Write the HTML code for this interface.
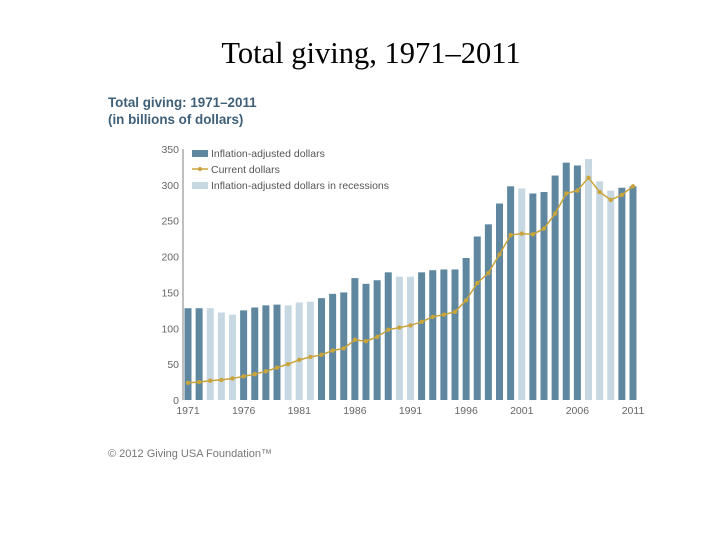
<!DOCTYPE html>
<html><head><meta charset="utf-8"><style>
body{margin:0;background:#fff;width:720px;height:540px;overflow:hidden}
svg{display:block}
</style></head><body>
<svg id="c" width="720" height="540" xmlns="http://www.w3.org/2000/svg">
<text x="371" y="63" text-anchor="middle" font-family="Liberation Serif, serif" font-size="30.5" fill="#000">Total giving, 1971–2011</text>
<text x="108" y="107" font-family="Liberation Sans, sans-serif" font-weight="bold" font-size="13.4" fill="#3f5f78">Total giving: 1971–2011</text>
<text x="108" y="124" font-family="Liberation Sans, sans-serif" font-weight="bold" font-size="13.4" fill="#3f5f78">(in billions of dollars)</text>
<text x="108" y="457" font-family="Liberation Sans, sans-serif" font-size="11" fill="#777">© 2012 Giving USA Foundation™</text>
<line x1="183" y1="149" x2="183" y2="400" stroke="#aaa" stroke-width="1.5"/>
<g id="bars"></g><g id="line"></g><g id="axes"></g>
<g font-family="Liberation Sans, sans-serif" font-size="10.5" fill="#555">
<rect x="192" y="150" width="16" height="7" fill="#5f87a0"/>
<text x="211" y="157">Inflation-adjusted dollars</text>
<line x1="192" y1="169" x2="208" y2="169" stroke="#c9a43a" stroke-width="1.5"/>
<circle cx="200" cy="169" r="2" fill="#c9a43a"/>
<text x="211" y="173">Current dollars</text>
<rect x="192" y="182" width="16" height="7" fill="#c8d8e3"/>
<text x="211" y="189">Inflation-adjusted dollars in recessions</text>
</g>
</svg>
<script>
const years=[1971,1972,1973,1974,1975,1976,1977,1978,1979,1980,1981,1982,1983,1984,1985,1986,1987,1988,1989,1990,1991,1992,1993,1994,1995,1996,1997,1998,1999,2000,2001,2002,2003,2004,2005,2006,2007,2008,2009,2010,2011];
const adjusted=[128,128,128,122,119,125,129,132,133,132,136,137,142,148,150,170,162,167,178,172,172,178,181,182,182,198,228,245,274,298,295,288,290,313,331,327,336,305,292,296,298];
const current=[24,25,27,28,30,33,36,40,45,50,56,60,63,69,72,84,82,88,98,101,104,109,116,119,123,139,163,177,203,230,232,231,239,260,288,292,310,290,279,286,298];
const recessions=[1973,1974,1975,1980,1981,1982,1990,1991,2001,2007,2008,2009];
const yTicks=[0,50,100,150,200,250,300,350];
const xTicks=[1971,1976,1981,1986,1991,1996,2001,2006,2011];
const NS='http://www.w3.org/2000/svg';
const y=v=>400-v*251/350;
const x=yr=>188+(yr-1971)*11.125;
function mk(t,a,p){const e=document.createElementNS(NS,t);for(const k in a)e.setAttribute(k,a[k]);p.appendChild(e);return e;}
const bars=document.getElementById('bars'),line=document.getElementById('line'),axes=document.getElementById('axes');
years.forEach((yr,i)=>{const r=mk('rect',{x:x(yr)-3.5,y:y(adjusted[i]),width:7,height:400-y(adjusted[i]),fill:recessions.includes(yr)?'#c8d8e3':'#5f87a0'},bars);

});
const pl=mk('polyline',{points:years.map((yr,i)=>x(yr)+','+y(current[i])).join(' '),fill:'none',stroke:'#c9a43a','stroke-width':1.5},line);


years.forEach((yr,i)=>{const c=mk('circle',{cx:x(yr),cy:y(current[i]),r:2.2,fill:'#c9a43a'},line);

});
yTicks.forEach(v=>{const t=mk('text',{x:179,y:y(v)+4,'text-anchor':'end','font-family':'Liberation Sans, sans-serif','font-size':'10.5',fill:'#666'},axes);t.textContent=v;

});
xTicks.forEach(v=>{const t=mk('text',{x:x(v),y:414,'text-anchor':'middle','font-family':'Liberation Sans, sans-serif','font-size':'10.5',fill:'#666'},axes);t.textContent=v;

});
</script>
</body></html>
